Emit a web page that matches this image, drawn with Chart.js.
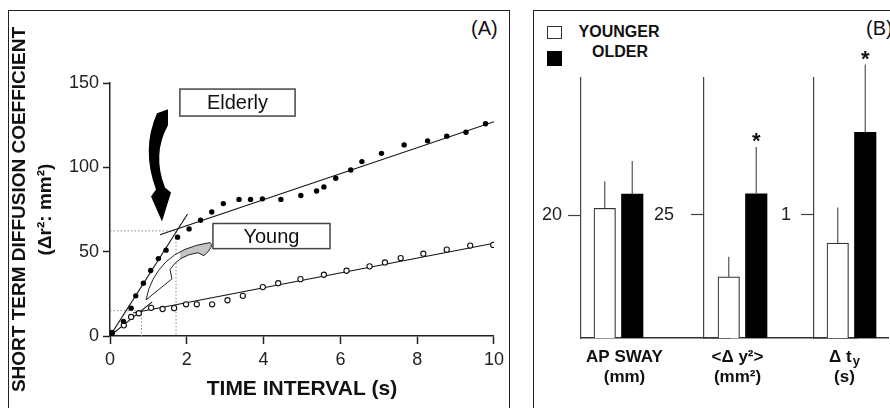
<!DOCTYPE html>
<html>
<head>
<meta charset="utf-8">
<script src="https://cdn.jsdelivr.net/npm/chart.js@4.4.1/dist/chart.umd.min.js"></script>
<style>
    html, body { margin: 0; padding: 0; background: #fff; }
    body { width: 890px; height: 408px; position: relative; overflow: hidden;
           font-family: "Liberation Sans", Arial, Helvetica, sans-serif; color: #111; }
    .frame { position: absolute; border: 1.5px solid #222; box-sizing: border-box; }
    #frameA { left: 8px; top: 10px; width: 502px; height: 430px; }
    #frameB { left: 533px; top: 10px; width: 400px; height: 430px; }
    canvas { position: absolute; }
    .txt { position: absolute; white-space: nowrap; }
    .panel-tag { font-size: 20px; line-height: 20px; }
    .legend-text { font-size: 16px; line-height: 16px; font-weight: bold; width: 120px; text-align: center; }
    .swatch { position: absolute; box-sizing: border-box; }
</style>
</head>
<body>
<div class="frame" id="frameA"></div>
<div class="frame" id="frameB"></div>
<div class="txt panel-tag" style="left:471px; top:18px;">(A)</div>
<div class="txt panel-tag" style="left:866px; top:18px;">(B)</div>
<div class="swatch" style="left:547px; top:26px; width:15px; height:13px; border:1.5px solid #333;"></div>
<div class="swatch" style="left:547px; top:51px; width:15px; height:15px; background:#000;"></div>
<div class="txt legend-text" style="left:559px; top:24px;">YOUNGER</div>
<div class="txt legend-text" style="left:560px; top:44px;">OLDER</div>
<canvas id="chartA" width="509" height="397" style="left:0; top:11px;"></canvas>

<script>
// ---- Panel A: short term diffusion vs time interval ----
const elderlyT = [0.05, 0.35, 0.55, 0.67, 0.87, 1.06, 1.26, 1.46, 1.76, 2.06, 2.36, 2.65, 2.95,
                  3.36, 3.66, 3.97, 4.45, 4.97, 5.38, 5.57, 5.88, 6.27, 6.56, 7.07, 7.66, 8.27,
                  8.77, 9.27, 9.78];
const elderlyD = [1.8, 8.7, 16.5, 23.8, 31.3, 38.8, 45.9, 50.9, 58.6, 63.5, 68.6, 73.5, 78.5,
                  81, 81, 81.3, 81, 83.3, 86, 88.4, 93.5, 98.4, 103.4, 108.3, 113.3, 115.7,
                  118.5, 120.8, 125.8];
const youngT = [0.05, 0.36, 0.55, 0.75, 1.07, 1.37, 1.67, 1.98, 2.26, 2.66, 3.06, 3.46, 3.98,
                4.38, 4.96, 5.57, 6.16, 6.76, 7.16, 7.57, 8.16, 8.77, 9.38, 9.98];
const youngD = [1.8, 6.3, 11.3, 13.5, 16.7, 16.0, 16.5, 18.8, 18.8, 18.8, 21.2, 23.8, 29.0,
                31.3, 33.7, 36.3, 38.7, 41.3, 43.6, 46.2, 48.8, 51.2, 53.6, 54.0];

// fitted regions (start/end of each fitted line)
const elderlyFitShort = [[0, 0], [2.02, 72.3]];
const elderlyFitLong = [[1.3, 60], [10, 127]];
const youngFitShort = [[0, 0], [1.1, 20.2]];
const youngFitLong = [[0.6, 13.6], [10, 55]];
// critical points (where the two fits cross)
const elderlyCross = [1.72, 62.3];
const youngCross = [0.82, 15];

const xTicksA = [0, 2, 4, 6, 8, 10];
const yTicksA = [0, 50, 100, 150];

// ---- Panel B: posturographic summary ----
const groupNames = [['AP SWAY', '(mm)'], ['<\u0394 y\u00b2>', '(mm\u00b2)'], ['\u0394 t_y', '(s)']];
const youngerMean = [21.1, 12.4, 0.77];
const youngerErr = [4.4, 4.1, 0.29];
const olderMean = [23.4, 29.3, 1.67];
const olderErr = [5.4, 9.5, 0.55];
const significant = [false, true, true];
const groupTick = [20, 25, 1];
const groupMax = [42.3, 52.8, 2.11];

const FONT = '"Liberation Sans", Arial, Helvetica, sans-serif';
Chart.defaults.font.family = FONT;
Chart.defaults.color = '#111';

function pts(xs, ys) {
    return xs.map((x, i) => ({ x: x, y: ys[i] }));
}
function seg(pairs) {
    return pairs.map(p => ({ x: p[0], y: p[1] }));
}
function guide(c) {
    return [{ x: 0, y: c[1] }, { x: c[0], y: c[1] }, { x: c[0], y: 0 }];
}

// annotation shapes, in axis units
const noteBoxes = [
    { text: 'Elderly', x0: 1.82, x1: 4.82, y0: 130.4, y1: 146.4 },
    { text: 'Young', x0: 2.68, x1: 5.73, y0: 51.8, y1: 66.7 }
];
const blackArrow = [
    ['M', 1.510, 134.5], ['L', 1.224, 132.1], ['Q', 0.807, 110.7, 1.198, 86.9],
    ['L', 1.068, 82.7], ['L', 1.354, 67.9], ['L', 1.589, 85.1], ['L', 1.432, 88.1],
    ['Q', 1.094, 107.7, 1.510, 125.0]
];
const greyArrow = [
    ['M', 2.604, 55.4], ['Q', 2.734, 53.6, 2.448, 47.6], ['L', 2.292, 49.4],
    ['Q', 1.771, 47.6, 1.563, 39.3], ['L', 1.615, 33.9], ['L', 0.938, 21.4],
    ['Q', 1.042, 34.5, 1.458, 44.0], ['Q', 1.875, 53.0, 2.604, 55.4]
];
const greyTailFrom = 1.82;  // the shaded part of the ribbon starts here (x units)

function tracePath(ctx, xs, ys, shape) {
    ctx.beginPath();
    shape.forEach(c => {
        if (c[0] === 'M') ctx.moveTo(xs.getPixelForValue(c[1]), ys.getPixelForValue(c[2]));
        else if (c[0] === 'L') ctx.lineTo(xs.getPixelForValue(c[1]), ys.getPixelForValue(c[2]));
        else ctx.quadraticCurveTo(xs.getPixelForValue(c[1]), ys.getPixelForValue(c[2]),
                                  xs.getPixelForValue(c[3]), ys.getPixelForValue(c[4]));
    });
    ctx.closePath();
}

const notesPlugin = {
    id: 'notes',
    afterDraw(chart) {
        const { ctx, chartArea } = chart;
        const xs = chart.scales.x, ys = chart.scales.y;
        ctx.save();
        noteBoxes.forEach(b => {
            const l = xs.getPixelForValue(b.x0), r = xs.getPixelForValue(b.x1);
            const t = ys.getPixelForValue(b.y1), bt = ys.getPixelForValue(b.y0);
            ctx.fillStyle = '#fff';
            ctx.fillRect(l, t, r - l, bt - t);
            ctx.strokeStyle = '#444';
            ctx.lineWidth = 1.5;
            ctx.strokeRect(l, t, r - l, bt - t);
            ctx.fillStyle = '#111';
            ctx.font = '20px ' + FONT;
            ctx.textAlign = 'center';
            ctx.textBaseline = 'middle';
            ctx.fillText(b.text, (l + r) / 2, (t + bt) / 2 + 1);
        });
        tracePath(ctx, xs, ys, blackArrow);
        ctx.fillStyle = '#000';
        ctx.fill();

        // grey ribbon arrow: white body, shaded tail
        tracePath(ctx, xs, ys, greyArrow);
        ctx.fillStyle = '#fff';
        ctx.fill();
        ctx.save();
        const cx = xs.getPixelForValue(greyTailFrom);
        ctx.beginPath();
        ctx.rect(cx, chartArea.top, chartArea.right - cx, chartArea.bottom - chartArea.top);
        ctx.clip();
        tracePath(ctx, xs, ys, greyArrow);
        ctx.fillStyle = '#c4c4c4';
        ctx.fill();
        ctx.restore();
        tracePath(ctx, xs, ys, greyArrow);
        ctx.strokeStyle = '#222';
        ctx.lineWidth = 1;
        ctx.stroke();
        ctx.restore();
    }
};

const lineStyle = { showLine: true, pointRadius: 0, borderColor: '#111', borderWidth: 1.1, fill: false };
const guideStyle = { showLine: true, pointRadius: 0, borderColor: '#888', borderWidth: 1, borderDash: [1.5, 2], fill: false };

new Chart(document.getElementById('chartA'), {
    type: 'scatter',
    data: {
        datasets: [
            { label: 'Elderly', data: pts(elderlyT, elderlyD), pointRadius: 2.7,
              pointBackgroundColor: '#000', pointBorderColor: '#000', pointBorderWidth: 0 },
            { label: 'Young', data: pts(youngT, youngD), pointRadius: 2.6,
              pointBackgroundColor: '#fff', pointBorderColor: '#111', pointBorderWidth: 1.1 },
            Object.assign({ data: seg(elderlyFitShort) }, lineStyle),
            Object.assign({ data: seg(elderlyFitLong) }, lineStyle),
            Object.assign({ data: seg(youngFitShort) }, lineStyle),
            Object.assign({ data: seg(youngFitLong) }, lineStyle),
            Object.assign({ data: guide(elderlyCross) }, guideStyle),
            Object.assign({ data: guide(youngCross) }, guideStyle)
        ]
    },
    options: {
        responsive: false,
        animation: false,
        devicePixelRatio: 1,
        events: [],
        layout: { padding: { top: 72, right: 15, left: 0, bottom: 0 } },
        plugins: { legend: { display: false }, tooltip: { enabled: false } },
        scales: {
            x: {
                type: 'linear', min: 0, max: 10,
                afterFit: s => { s.height = 72; },
                afterBuildTicks: s => { s.ticks = xTicksA.map(v => ({ value: v })); },
                ticks: { padding: 5, font: { size: 18 }, color: '#222', callback: v => String(v) },
                grid: { drawOnChartArea: false, tickLength: 8, tickColor: '#222', tickWidth: 1.5 },
                border: { color: '#222', width: 1.5 },
                title: { display: true, text: 'TIME INTERVAL (s)', color: '#111',
                         font: { size: 21, weight: 'bold' }, padding: { top: 0, bottom: 6 } }
            },
            y: {
                type: 'linear', min: 0, max: 150,
                afterFit: s => { s.width = 110; },
                afterBuildTicks: s => { s.ticks = yTicksA.map(v => ({ value: v })); },
                ticks: { padding: 4, font: { size: 18 }, color: '#222', callback: v => String(v) },
                grid: { drawOnChartArea: false, tickLength: 7, tickColor: '#222', tickWidth: 1.5 },
                border: { color: '#222', width: 1.5 },
                title: { display: true, text: ['SHORT TERM DIFFUSION COEFFICIENT', '(\u0394r\u00b2: mm\u00b2)'],
                         color: '#111', font: { size: 19, weight: 'bold', lineHeight: 1.37 },
                         padding: { top: 7, bottom: 0 } }
            }
        }
    },
    plugins: [notesPlugin]
});

// ---- Panel B: one small chart per measure, each with its own axis ----
const groupAxisLeft = [581, 704, 814];
const groupAreaRight = [731, 858, 889];
const groupSlots = [2, 2, 1];
const groupTickPad = [6, 17, 10];
const groupLabelShift = [6, -5, -7];

function drawGroupLabel(ctx, lines, cx, top) {
    lines.forEach((line, i) => {
        const y = top + i * 20;
        ctx.textBaseline = 'middle';
        const parts = line.split('_');
        ctx.font = 'bold 17px ' + FONT;
        const w0 = ctx.measureText(parts[0]).width;
        let w1 = 0;
        if (parts[1]) {
            ctx.font = 'bold 13px ' + FONT;
            w1 = ctx.measureText(parts[1]).width + 1;
        }
        const x0 = cx - (w0 + w1) / 2;
        ctx.textAlign = 'left';
        ctx.font = 'bold 17px ' + FONT;
        ctx.fillText(parts[0], x0, y);
        if (parts[1]) {
            ctx.font = 'bold 13px ' + FONT;
            ctx.fillText(parts[1], x0 + w0 + 1, y + 4);
        }
    });
}

function makeGroupChart(g) {
    const canvas = document.createElement('canvas');
    const left = groupAxisLeft[g] - 60;
    canvas.width = groupAreaRight[g] - left;
    canvas.height = 397;
    canvas.style.left = left + 'px';
    canvas.style.top = '11px';
    document.body.appendChild(canvas);

    const labels = [];
    for (let i = 0; i < groupSlots[g]; i++) labels.push(i === 0 ? groupNames[g][0] : '');
    const only = arr => labels.map((_, i) => (i === 0 ? arr[g] : null));

    const extras = {
        id: 'extras' + g,
        afterDatasetsDraw(chart) {
            const { ctx } = chart;
            const ys = chart.scales.y;
            const means = [youngerMean[g], olderMean[g]];
            const errs = [youngerErr[g], olderErr[g]];
            ctx.save();
            ctx.strokeStyle = '#555';
            ctx.lineWidth = 1.2;
            [0, 1].forEach(d => {
                const bar = chart.getDatasetMeta(d).data[0];
                const top = ys.getPixelForValue(means[d] + errs[d]);
                ctx.beginPath();
                ctx.moveTo(bar.x, bar.y);
                ctx.lineTo(bar.x, top);
                ctx.stroke();
                if (d === 1 && significant[g]) {
                    ctx.font = 'bold 22px ' + FONT;
                    ctx.fillStyle = '#111';
                    ctx.textAlign = 'center';
                    ctx.textBaseline = 'alphabetic';
                    const m = ctx.measureText('*');
                    ctx.fillText('*', bar.x, top - 4.5 - m.actualBoundingBoxDescent);
                }
            });
            ctx.restore();
        },
        afterDraw(chart) {
            const { ctx, chartArea } = chart;
            const cx = chart.scales.x.getPixelForTick(0) + groupLabelShift[g];
            ctx.save();
            ctx.fillStyle = '#111';
            drawGroupLabel(ctx, groupNames[g], cx, chartArea.bottom + 19);
            ctx.restore();
        }
    };

    new Chart(canvas, {
        type: 'bar',
        data: {
            labels: labels,
            datasets: [
                { label: 'YOUNGER', data: only(youngerMean), backgroundColor: '#fff',
                  borderColor: '#333', borderWidth: 1.2 },
                { label: 'OLDER', data: only(olderMean), backgroundColor: '#000',
                  borderColor: '#000', borderWidth: 0 }
            ]
        },
        options: {
            responsive: false,
            animation: false,
            devicePixelRatio: 1,
            events: [],
            barThickness: 27.5,
            maxBarThickness: 21.5,
            layout: { padding: { top: 67, right: 0, left: 0, bottom: 0 } },
            plugins: { legend: { display: false }, tooltip: { enabled: false } },
            scales: {
                x: {
                    afterFit: s => { s.height = 70; },
                    ticks: { display: false },
                    grid: { display: false },
                    border: { color: '#333', width: 1.5 }
                },
                y: {
                    min: 0, max: groupMax[g],
                    afterFit: s => { s.width = 60; },
                    afterBuildTicks: s => { s.ticks = [{ value: groupTick[g] }]; },
                    ticks: { padding: groupTickPad[g], font: { size: 18 }, color: '#222',
                             callback: v => String(v) },
                    grid: { drawOnChartArea: false, tickLength: 13, tickColor: '#444', tickWidth: 1.2 },
                    border: { color: '#444', width: 1.2 }
                }
            }
        },
        plugins: [extras]
    });
}

[0, 1, 2].forEach(makeGroupChart);
</script>
</body>
</html>
